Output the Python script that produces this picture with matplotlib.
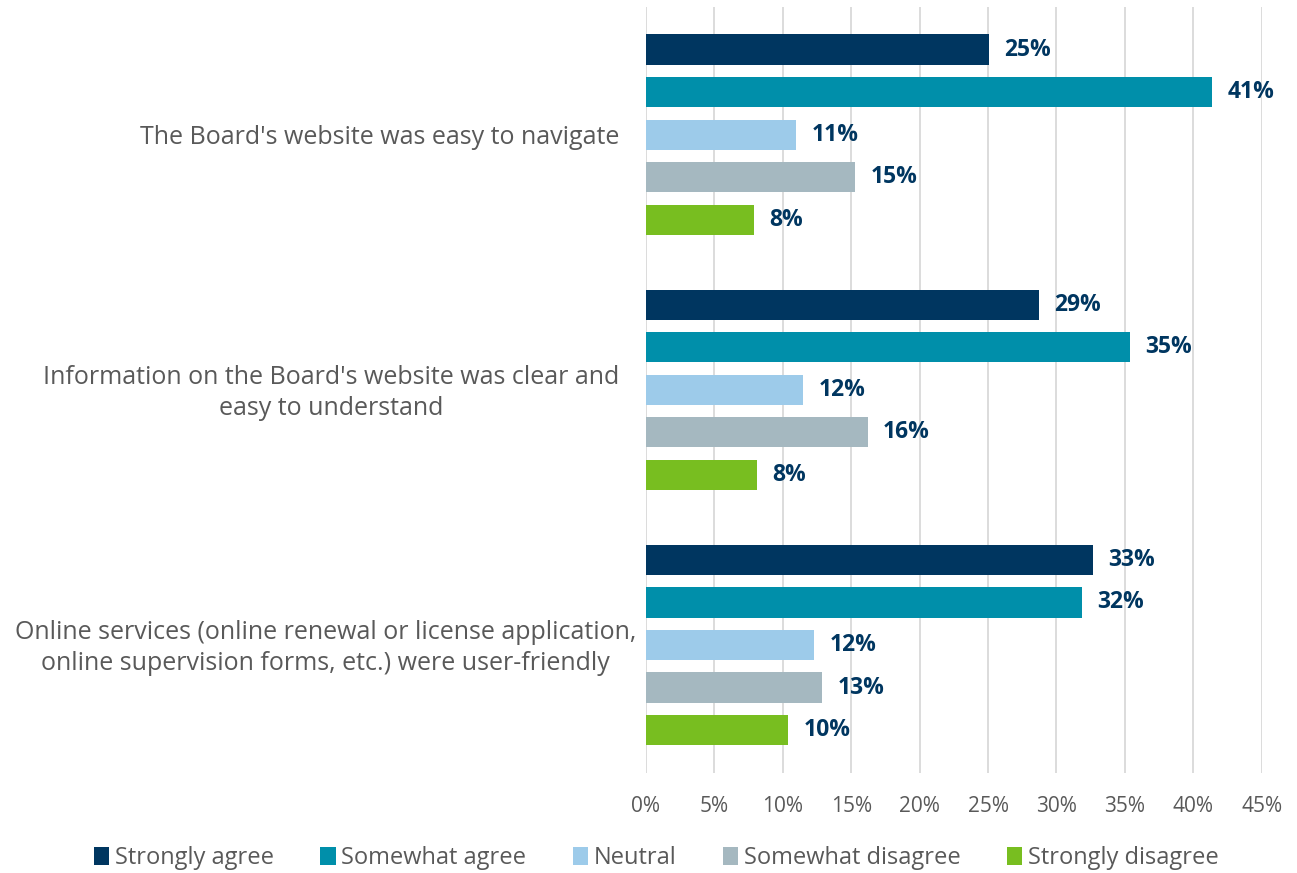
import matplotlib
matplotlib.use("Agg")
from matplotlib import pyplot as plt
from matplotlib.ticker import FuncFormatter
from matplotlib.transforms import ScaledTranslation
import numpy as np

plt.rcParams['font.family'] = ['Open Sans', 'DejaVu Sans']

statements = [
    "The Board's website was easy to navigate",
    "Information on the Board's website was clear and\neasy to understand",
    "Online services (online renewal or license application,\nonline supervision forms, etc.) were user-friendly",
]
responses = ["Strongly agree", "Somewhat agree", "Neutral", "Somewhat disagree", "Strongly disagree"]

# percent of respondents, one list per response, in statement order
strongly_agree = [25.1, 28.7, 32.7]
somewhat_agree = [41.4, 35.4, 31.9]
neutral = [11.0, 11.5, 12.3]
somewhat_disagree = [15.3, 16.2, 12.9]
strongly_disagree = [7.9, 8.1, 10.4]

series = [strongly_agree, somewhat_agree, neutral, somewhat_disagree, strongly_disagree]
colors = ['#003660', '#008FAA', '#9DCBEA', '#A5B8C0', '#78BE20']
label_color = '#003660'
gray = '#595959'

fig = plt.figure(figsize=(12.97, 8.73), dpi=100)
ax = fig.add_axes([0.498, 0.115, 0.4748, 0.877])

y = np.arange(len(statements))
pitch = 0.1667
height = 0.118
for i, (name, vals, c) in enumerate(zip(responses, series, colors)):
    pos = y + (i - 2) * pitch
    ax.barh(pos, vals, height=height, color=c, label=name, zorder=3)
    for p, v in zip(pos, vals):
        ax.text(v + 1.1, p, f"{v:.0f}%", va='center', ha='left',
                fontsize=16.5, fontweight='bold', color=label_color, zorder=4)

ax.set_xlim(0, 45)
ax.set_ylim(2.5, -0.5)
ax.set_xticks(np.arange(0, 46, 5))
ax.xaxis.set_major_formatter(FuncFormatter(lambda v, _: f"{v:.0f}%"))
ax.tick_params(axis='x', length=0, pad=17, labelsize=15, labelcolor=gray)

# statement labels to the left of the bars, right edge in pixels from the axis
ax.set_yticks([])
right_gap = [27, 27, 10]
for yy, txt, gap in zip(y, statements, right_gap):
    tr = ax.get_yaxis_transform() + ScaledTranslation(-gap / 100, -0.03, fig.dpi_scale_trans)
    ax.text(0, yy, txt, transform=tr, ha='right', va='center', multialignment='center',
            fontsize=18, color=gray, linespacing=1.3)

ax.grid(axis='x', color='#D9D9D9', linewidth=1.3, zorder=0)
for s in ax.spines.values():
    s.set_visible(False)

handles, labels = ax.get_legend_handles_labels()
fig.legend(handles, labels, loc='center', bbox_to_anchor=(0.506, 0.017), ncol=5, frameon=False,
           fontsize=17, handlelength=0.65, handleheight=0.75, handletextpad=0.25,
           columnspacing=1.95, labelcolor=gray)

fig.savefig("out.png", dpi=100, facecolor='white')
